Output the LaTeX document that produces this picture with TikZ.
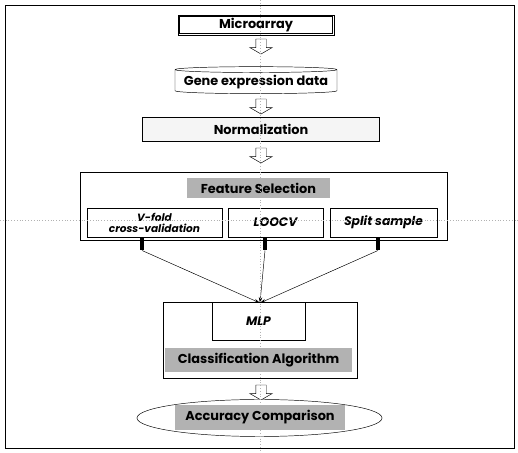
\documentclass[tikz,border=0pt]{standalone}
\usepackage{fontspec}
\setmainfont{Poppins}
\usetikzlibrary{shapes.geometric,shapes.arrows,arrows.meta}
\tikzset{
  box/.style={draw,rectangle,minimum height=0.6cm,inner sep=1pt,font=\fontsize{11}{12}\selectfont\bfseries},
  subbox/.style={draw,rectangle,minimum height=0.87cm,inner sep=1pt,align=center,font=\fontsize{10.5}{11}\selectfont\bfseries\itshape},
  graylabel/.style={fill=gray!60,inner sep=1pt,font=\fontsize{11}{12}\selectfont\bfseries},
  downarrow/.style={single arrow,draw,fill=white,shape border rotate=270,minimum height=0.45cm,inner sep=0.15cm,single arrow head extend=0.18cm,single arrow tip angle=120},
  stub/.style={fill=black,minimum width=0.12cm,minimum height=0.39cm,inner sep=0pt,anchor=north},
  guide/.style={dotted,gray!60,thin}
}
\begin{document}
\begin{tikzpicture}[x=0.03cm,y=-0.03cm]
        \useasboundingbox (0,0) rectangle (518,453);
        %% Frame
        \draw (5,5) rectangle (514,448);
        %% Top chain
        \node[box,fill=white,minimum width=4.68cm] (micro) at (256,25) {Microarray};
        \draw ([shift={(1.5pt,-1.5pt)}]micro.north west) rectangle ([shift={(-1.5pt,1.5pt)}]micro.south east);
        \node[downarrow] (a1) at (261,45) {};
        \node[draw,fill=white,cylinder,shape border rotate=90,aspect=0.04,minimum width=4.86cm,minimum height=0.81cm,inner sep=1pt,font=\fontsize{11}{12}\selectfont\bfseries] (gene) at (256,82) {Gene expression data};
        \node[downarrow] (a2) at (261,105) {};
        \node[box,fill=gray!8,minimum width=7.11cm,minimum height=0.72cm] (norm) at (261,129) {Normalization};
        \node[downarrow] (a3) at (261,154) {};
        %% Feature selection
        \node[draw,rectangle,minimum width=11.01cm,minimum height=2.04cm] (fs) at (263.5,206) {};
        \node[graylabel,minimum width=4.29cm,minimum height=0.6cm] (fstitle) at (258.5,188) {Feature Selection};
        \node[subbox,minimum width=4.05cm,font=\fontsize{9}{9.5}\selectfont\bfseries\itshape] (vfold) at (154.5,222.5) {V-fold\\cross-validation};
        \node[subbox,minimum width=2.85cm] (loocv) at (275.5,222.5) {LOOCV};
        \node[subbox,minimum width=3.21cm] (split) at (383.5,222.5) {Split sample};
        \node[stub] (s1) at (142,237) {};
        \node[stub] (s2) at (265,237) {};
        \node[stub] (s3) at (378,237) {};
        \coordinate (C) at (260,303);
        %% Classification
        \node[draw,rectangle,minimum width=5.82cm,minimum height=2.28cm] (cls) at (260,340) {};
        \node[box,fill=white,minimum width=2.79cm,minimum height=1.14cm,font=\fontsize{10.5}{11}\selectfont\bfseries\itshape] (mlp) at (258.5,321) {MLP};
        \node[graylabel,minimum width=5.61cm,minimum height=0.72cm] (clslabel) at (258.5,360) {Classification Algorithm};
        \draw[-{Stealth[length=5pt,width=3pt]}] (s1.south) -- (C);
        \draw[-{Stealth[length=5pt,width=3pt]}] (s2.south) -- (C);
        \draw[-{Stealth[length=5pt,width=3pt]}] (s3.south) -- (C);
        %% Result
        \node[downarrow] (a4) at (261,391) {};
        \node[draw,fill=white,ellipse,minimum width=7.35cm,minimum height=1.11cm,inner sep=0pt] (acc) at (259.5,418) {};
        \node[graylabel,minimum width=5.1cm,minimum height=0.75cm] (acclabel) at (260,417.5) {Accuracy Comparison};
        %% Guides
        \draw[guide] (260,0) -- (260,453);
        \draw[guide] (0,220) -- (518,220);
    \end{tikzpicture}
\end{document}
